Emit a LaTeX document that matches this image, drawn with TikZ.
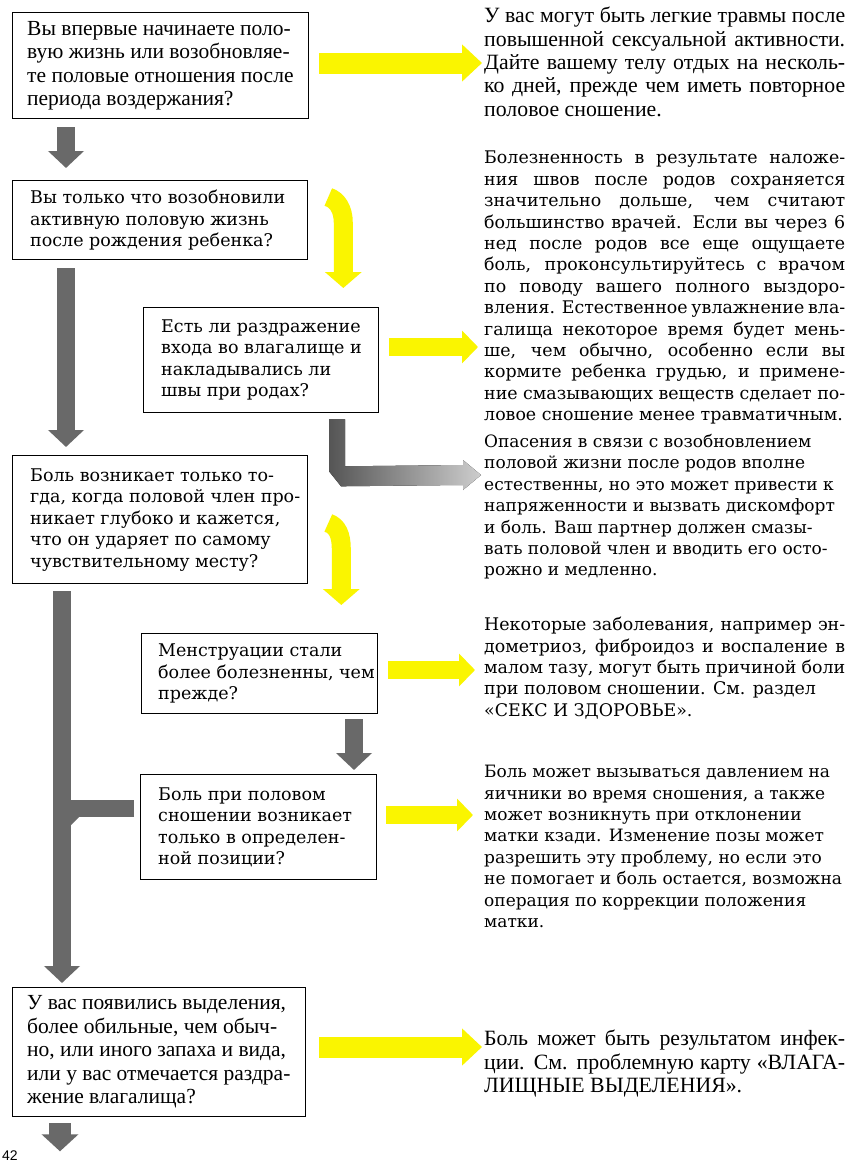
\documentclass[tikz,border=0pt]{standalone}
\usepackage{fontspec}
\setmainfont{Liberation Serif}
\newfontfamily\tmsf{Liberation Serif}
\newfontfamily\centf{DejaVu Serif}
\newfontfamily\pgnumf{Liberation Sans}
\usetikzlibrary{arrows.meta,calc}
\definecolor{yel}{RGB}{250,245,0}
\definecolor{gry}{RGB}{105,105,105}
\definecolor{gdark}{RGB}{85,85,85}
\definecolor{glight}{RGB}{205,205,205}
\newcommand{\jl}[1]{\hbox to 361pt{#1}}
\tikzset{
  qbox/.style={draw=black, line width=1.3pt, fill=white, inner sep=0pt, anchor=north west},
  tm/.style={font=\tmsf\fontsize{21.5}{23.5}\selectfont, align=left, inner sep=0pt},
  tmr/.style={font=\tmsf\fontsize{21.8}{23.3}\selectfont, align=left, inner sep=0pt},
  ct/.style={font=\centf\fontsize{17.5}{21.5}\selectfont, align=left, inner sep=0pt},
  ctr/.style={font=\centf\fontsize{17.4}{21.4}\selectfont, align=left, inner sep=0pt},
  ctn/.style={font=\centf\fontsize{17}{21.4}\selectfont, align=left, inner sep=0pt},
  yarrow/.style={draw=yel, line width=18pt, -{Triangle[width=32pt,length=16pt]}},
  ybig/.style={draw=yel, line width=21pt, -{Triangle[width=36pt,length=20pt]}},
  ybent/.style={draw=yel, line width=19pt, -{Triangle[width=36pt,length=16pt]}},
  garrow/.style={draw=gry, line width=18pt, -{Triangle[width=35pt,length=17pt]}},
}
\begin{document}
\begin{tikzpicture}[x=1pt,y=-1pt]
\useasboundingbox (0,0) rectangle (849,1165);
\fill[white] (0,0) rectangle (849,1165);

% boxes
\node[qbox, minimum width=296pt, minimum height=106pt] (b1) at (12,12) {};
\node[qbox, minimum width=295pt, minimum height=79pt]  (b2) at (12,180) {};
\node[qbox, minimum width=235pt, minimum height=105pt] (b3) at (143,307) {};
\node[qbox, minimum width=295pt, minimum height=128pt] (b4) at (12,455) {};
\node[qbox, minimum width=236pt, minimum height=80pt]  (b5) at (141,633) {};
\node[qbox, minimum width=236pt, minimum height=105pt] (b6) at (140,774) {};
\node[qbox, minimum width=293pt, minimum height=129pt] (b7) at (12,987) {};

% box texts
\node[tm, anchor=west] (b1t) at ($(b1.west)+(15,0)$) {Вы впервые начинаете поло-\\вую жизнь или возобновляе-\\те половые отношения после\\периода воздержания?};
\node[ct, anchor=west] (b2t) at ($(b2.west)+(18,0)$) {Вы только что возобновили\\активную половую жизнь\\после рождения ребенка?};
\node[ct, anchor=west] (b3t) at ($(b3.west)+(18,0)$) {Есть ли раздражение\\входа во влагалище и\\накладывались ли\\швы при родах?};
\node[ct, anchor=west] (b4t) at ($(b4.west)+(18,0)$) {Боль возникает только то-\\гда, когда половой член про-\\никает глубоко и кажется,\\что он ударяет по самому\\чувствительному месту?};
\node[ct, anchor=west] (b5t) at ($(b5.west)+(17,0)$) {Менструации стали\\более болезненны, чем\\прежде?};
\node[ct, anchor=west] (b6t) at ($(b6.west)+(18,0)$) {Боль при половом\\сношении возникает\\только в определен-\\ной позиции?};
\node[tm, anchor=west] (b7t) at ($(b7.west)+(15,0)$) {У вас появились выделения,\\более обильные, чем обыч-\\но, или иного запаха и вида,\\или у вас отмечается раздра-\\жение влагалища?};

% right texts
\node[tmr, anchor=north west] (r1) at (484,7) {\jl{У вас могут быть легкие травмы после}\\\jl{повышенной сексуальной активности.}\\\jl{Дайте вашему телу отдых на несколь-}\\\jl{ко дней, прежде чем иметь повторное}\\половое сношение.};
\node[ctr, anchor=north west] (r2) at (484,151) {\jl{Болезненность в результате наложе-}\\\jl{ния швов после родов сохраняется}\\\jl{значительно дольше, чем считают}\\\jl{большинство врачей. Если вы через 6}\\\jl{нед после родов все еще ощущаете}\\\jl{боль, проконсультируйтесь с врачом}\\\jl{по поводу вашего полного выздоро-}\\\jl{вления. Естественное увлажнение вла-}\\\jl{галища некоторое время будет мень-}\\\jl{ше, чем обычно, особенно если вы}\\\jl{кормите ребенка грудью, и примене-}\\\jl{ние смазывающих веществ сделает по-}\\ловое сношение менее травматичным.};
\node[ctn, anchor=north west] (r3) at (484,434) {Опасения в связи с возобновлением\\половой жизни после родов вполне\\естественны, но это может привести к\\напряженности и вызвать дискомфорт\\и боль. Ваш партнер должен смазы-\\вать половой член и вводить его осто-\\рожно и медленно.};
\node[ctr, anchor=north west] (r4) at (484,617) {\jl{Некоторые заболевания, например эн-}\\\jl{дометриоз, фиброидоз и воспаление в}\\\jl{малом тазу, могут быть причиной боли}\\при половом сношении. См. раздел\\«СЕКС И ЗДОРОВЬЕ».};
\node[ctn, anchor=north west] (r5) at (484,765) {Боль может вызываться давлением на\\яичники во время сношения, а также\\может возникнуть при отклонении\\матки кзади. Изменение позы может\\разрешить эту проблему, но если это\\не помогает и боль остается, возможна\\операция по коррекции положения\\матки.};
\node[tmr, anchor=north west] (r6) at (484,1030) {\jl{Боль может быть результатом инфек-}\\\jl{ции. См. проблемную карту «ВЛАГА-}\\ЛИЩНЫЕ ВЫДЕЛЕНИЯ».};

% page number
\node[font=\pgnumf\fontsize{14}{14}\selectfont, anchor=north west, inner sep=0pt] (pg) at (2,1151) {42};

% yellow straight arrows
\draw[ybig]   ($(b1.east |- 0,63)+(10,0)$)   -- ($(r1.west |- 0,63)+(-2,0)$);
\draw[yarrow] ($(b3.east |- 0,347)+(10,0)$)  -- ($(r2.west |- 0,347)+(-6,0)$);
\draw[yarrow] ($(b5.east |- 0,670)+(10,0)$)  -- ($(r4.west |- 0,670)+(-9,0)$);
\draw[yarrow] ($(b6.east |- 0,815)+(9,0)$)   -- ($(r5.west |- 0,815)+(-11,0)$);
\draw[ybig]   ($(b7.east |- 0,1047)+(13,0)$) -- ($(r6.west |- 0,1047)+(-2,0)$);

% yellow bent arrows
\coordinate (y2s) at ($(b2.north east)+(20,17)$);
\coordinate (y2e) at ($(b3.north east)+(-36,-19)$);
\draw[ybent] (y2s) .. controls +(9,3) and +(0,-14) .. ($(y2s -| y2e)+(0,26)$) -- (y2e);
\coordinate (y4s) at ($(b4.north east)+(20,68)$);
\coordinate (y4e) at ($(b5.north east)+(-37,-28)$);
\draw[ybent] (y4s) .. controls +(9,3) and +(0,-14) .. ($(y4s -| y4e)+(0,26)$) -- (y4e);

% grey down arrows
\draw[garrow] ($(b1.south west)+(54,8)$)  -- ($(b2.north west)+(54,-12)$);
\draw[garrow] ($(b2.south west)+(54,8)$)  -- ($(b2.south west |- b4.north)+(54,-8)$);
\coordinate (g3s) at ($(b4.south west)+(50,7)$);
\draw[garrow] (g3s) -- ($(b7.north west)+(50,-4)$);
\draw[draw=gry, line width=17pt] ($(b6.west |- 0,808)+(-6,0)$) -- (g3s |- 0,808);
\fill[gry] ($(g3s |- 0,816)+(8,0)$) -- ($(g3s |- 0,816)+(18,0)$) -- ($(g3s |- 0,826)+(8,0)$) -- cycle;
\draw[garrow] ($(b5.south west)+(213,5)$) -- ($(b5.south west |- b6.north)+(213,-4)$);
\coordinate (gend) at ($(b7.south west)+(48,34)$);
\draw[draw=gry, line width=22pt, -{Triangle[width=36pt,length=17pt]}] ($(b7.south west)+(48,6)$) -- (gend);

% shaded L arrow from box 3 to the third text
\fill[left color=gdark, right color=glight]
  ($(b3.south west)+(186,6)$) -- ($(b3.south west)+(202,6)$) -- ($(b3.south west)+(202,53)$)
  -- ($(r3.west |- 0,465)+(-21,0)$) -- ($(r3.west |- 0,460)+(-21,0)$) -- ($(r3.west |- 0,475)+(-3,0)$)
  -- ($(r3.west |- 0,490)+(-21,0)$) -- ($(r3.west |- 0,485)+(-21,0)$)
  -- ($(b3.south west)+(198,73)$) -- ($(b3.south west)+(186,58)$) -- cycle;
\end{tikzpicture}
\end{document}
